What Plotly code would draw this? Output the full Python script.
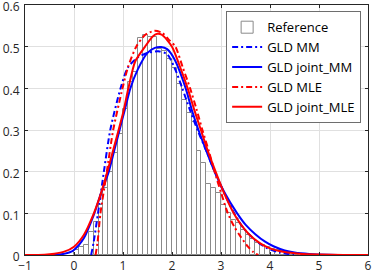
import plotly.graph_objects as go

# ---- data ----
bin_centers = [0.05, 0.15, 0.25, 0.35, 0.45, 0.55, 0.65, 0.75, 0.85, 0.95,
               1.05, 1.15, 1.25, 1.35, 1.45, 1.55, 1.65, 1.75, 1.85, 1.95,
               2.05, 2.15, 2.25, 2.35, 2.45, 2.55, 2.65, 2.75, 2.85, 2.95,
               3.05, 3.15, 3.25, 3.35, 3.45, 3.55, 3.65, 3.75, 3.85, 3.95,
               4.05, 4.15, 4.25, 4.35, 4.45, 4.55]
ref_density = [0.013, 0.02, 0.024, 0.055, 0.08, 0.12, 0.16, 0.2, 0.245, 0.29,
               0.35, 0.415, 0.44, 0.521, 0.527, 0.523, 0.523, 0.495, 0.49, 0.47,
               0.45, 0.41, 0.373, 0.34, 0.32, 0.25, 0.22, 0.17, 0.16, 0.148,
               0.12, 0.1, 0.085, 0.077, 0.06, 0.048, 0.038, 0.03, 0.024, 0.019,
               0.015, 0.012, 0.01, 0.008, 0.006, 0.004]
bin_width = 0.1

mm_x = [0.35, 0.4, 0.49, 0.61, 0.74, 0.95, 1.1, 1.3, 1.5, 1.72, 1.9, 2.05,
        2.21, 2.36, 2.52, 2.7, 2.87, 3.06, 3.27, 3.45, 3.7, 3.95, 4.2, 4.49]
mm_y = [0.0, 0.03, 0.1, 0.2, 0.3, 0.4, 0.45, 0.474, 0.485, 0.489, 0.482, 0.45,
        0.4, 0.35, 0.3, 0.25, 0.2, 0.15, 0.1, 0.066, 0.035, 0.016, 0.006, 0.0]

jmm_x = [-1.0, -0.5, -0.3, -0.1, 0.0, 0.2, 0.4, 0.55, 0.71, 0.82, 0.93, 1.04,
         1.15, 1.3, 1.5, 1.65, 1.78, 1.9, 2.05, 2.28, 2.4, 2.54, 2.7, 2.87,
         3.08, 3.33, 3.5, 3.7, 3.9, 4.07, 4.3, 4.5, 4.8, 5.2, 6.0]
jmm_y = [0.0, 0.0, 0.001, 0.006, 0.012, 0.04, 0.095, 0.148, 0.2, 0.25, 0.3, 0.35,
         0.4, 0.445, 0.485, 0.497, 0.499, 0.494, 0.47, 0.4, 0.35, 0.3, 0.25, 0.2,
         0.148, 0.1, 0.073, 0.05, 0.032, 0.021, 0.011, 0.006, 0.0025, 0.0008, 0.0]

mle_x = [0.44, 0.48, 0.54, 0.67, 0.8, 0.99, 1.1, 1.27, 1.45, 1.64, 1.8, 1.95,
         2.07, 2.22, 2.37, 2.5, 2.62, 2.75, 2.87, 3.0, 3.14, 3.27, 3.4, 3.55,
         3.66, 3.76]
mle_y = [0.0, 0.03, 0.1, 0.2, 0.3, 0.4, 0.45, 0.5, 0.528, 0.538, 0.533, 0.515,
         0.5, 0.45, 0.4, 0.35, 0.3, 0.25, 0.2, 0.15, 0.1, 0.068, 0.044, 0.02,
         0.007, 0.0]

jmle_x = [-1.0, -0.6, -0.4, -0.2, 0.0, 0.2, 0.405, 0.55, 0.68, 0.8, 0.91, 1.0,
          1.11, 1.25, 1.45, 1.6, 1.7, 1.8, 2.0, 2.15, 2.32, 2.45, 2.59, 2.73,
          2.89, 3.05, 3.26, 3.4, 3.57, 3.8, 4.0, 4.3, 4.6, 5.0, 5.5, 6.0]
jmle_y = [0.0, 0.0005, 0.003, 0.008, 0.02, 0.048, 0.1, 0.148, 0.2, 0.252, 0.3, 0.34,
          0.4, 0.465, 0.5, 0.524, 0.531, 0.528, 0.5, 0.456, 0.4, 0.35, 0.3, 0.25,
          0.2, 0.152, 0.1, 0.074, 0.05, 0.028, 0.016, 0.007, 0.003, 0.001, 0.0002, 0.0]

x_ticks = [-1, 0, 1, 2, 3, 4, 5, 6]
y_ticks = [0, 0.1, 0.2, 0.3, 0.4, 0.5, 0.6]
y_tick_labels = ["0", "0.1", "0.2", "0.3", "0.4", "0.5", "0.6"]

# ---- figure ----
BLUE = "rgb(0,0,255)"
RED = "rgb(255,0,0)"
DASHDOT = "6px,3px,2px,3px"

fig = go.Figure()
fig.add_trace(go.Bar(x=bin_centers, y=ref_density, width=bin_width, name="Reference",
                     marker=dict(color="white", line=dict(color="#8a8a8a", width=1))))
fig.add_trace(go.Scatter(x=mm_x, y=mm_y, mode="lines", name="GLD MM",
                         line=dict(color=BLUE, width=2, dash=DASHDOT, shape="spline", smoothing=0.7)))
fig.add_trace(go.Scatter(x=jmm_x, y=jmm_y, mode="lines", name="GLD joint_MM",
                         line=dict(color=BLUE, width=2, shape="spline", smoothing=0.7)))
fig.add_trace(go.Scatter(x=mle_x, y=mle_y, mode="lines", name="GLD MLE",
                         line=dict(color=RED, width=2, dash=DASHDOT, shape="spline", smoothing=0.7)))
fig.add_trace(go.Scatter(x=jmle_x, y=jmle_y, mode="lines", name="GLD joint_MLE",
                         line=dict(color=RED, width=2, shape="spline", smoothing=0.7)))

axis_common = dict(showline=True, linecolor="#262626", linewidth=1, mirror="ticks",
                   ticks="inside", ticklen=3, tickcolor="#262626",
                   showgrid=True, gridcolor="#e0e0e0", gridwidth=1, zeroline=False,
                   automargin=False, ticklabeloverflow="allow",
                   tickfont=dict(family="Open Sans", size=12, color="#262626"))

fig.update_layout(
    width=372, height=274,
    margin=dict(l=25, r=4, t=5, b=19),
    paper_bgcolor="white", plot_bgcolor="white",
    bargap=0,
    showlegend=True,
    legend=dict(x=0.98, y=0.975, xanchor="right", yanchor="top",
                bgcolor="white", bordercolor="#6e6e6e", borderwidth=1,
                font=dict(family="Open Sans", size=13, color="black"),
                tracegroupgap=0),
    xaxis=dict(range=[-1, 6], tickvals=x_ticks, ticklabelstandoff=0, **axis_common),
    yaxis=dict(range=[0, 0.6], tickvals=y_ticks, ticktext=y_tick_labels,
               ticklabelstandoff=2, ticklabelshift=2, **axis_common),
)

fig.write_html("out.html",
               config={"displayModeBar": False},
               post_script="document.body.style.margin='0px';document.body.style.overflow='hidden';")
